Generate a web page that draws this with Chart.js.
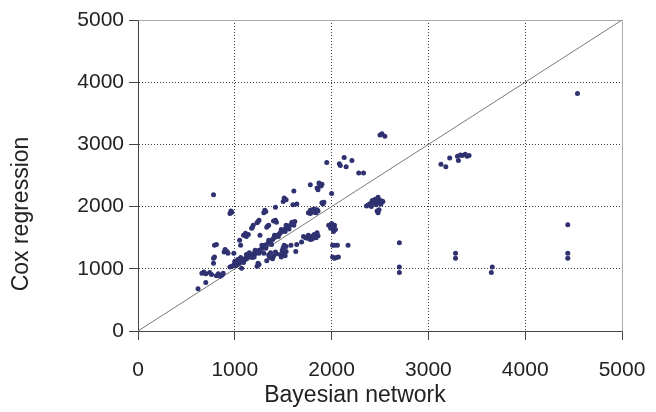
<!DOCTYPE html>
<html><head><meta charset="utf-8">
<script src="https://cdn.jsdelivr.net/npm/chart.js@4"></script>
<style>html,body{margin:0;padding:0;background:#fff}canvas{display:block}</style>
</head><body>
<canvas id="c" width="656" height="412"></canvas>
<script>
// Bayesian network (x) vs Cox regression (y) estimates
const bayesNet = [
 620,700,660,680,700,740,760,810,830,850,870,880,780,780,790,790,810,890,900,920,930,990,
 950,970,990,1000,1010,1020,1030,1040,1050,1060,1080,1100,1110,1120,1140,1160,1170,1180,1200,1210,1220,1240,1250,1260,1280,1300,1310,1330,1350,1370,1390,1400,1420,1440,1460,1480,1500,1520,1540,1560,1580,1600,1620,
 1000,1030,1060,1090,1120,1150,1180,1210,1250,1280,1320,1350,1380,1410,1450,1480,1520,1560,1590,1610,1530,1470,
 1070,1230,1250,1240,1200,
 1060,1090,1110,1120,1140,1050,1180,1190,1260,1230,1250,1240,1330,1350,1340,1400,1420,1430,1174,
 780,950,960,970,1300,1310,1320,1420,1500,1510,1530,1600,1640,1610,
 1780,1850,1870,1890,1860,1900,1880,
 1900,1920,1910,
 1760,1780,1800,1820,1840,1860,1780,1820,1800,1850,
 2000,
 1970,1990,2000,2010,2020,2030,2040,2020,
 1730,1760,1790,1800,1820,1840,1860,1850,1780,1710,1750,
 1690,1640,1580,1510,1500,1530,
 2010,2030,2060,2170,
 2010,2030,2050,2070,
 1630,1480,1500,1520,1530,1490,1470,
 1330,1360,1390,1400,1350,1300,1420,1430,1370,
 1950,2130,2090,2080,2150,2210,2280,2330,2500,2520,2550,
 2360,2380,2400,2410,2420,2430,2440,2450,2460,2470,2480,2490,2500,2510,2520,2530,2470,2480,2490,
 2700,2700,2700,3130,3180,3220,3300,3330,3350,3380,3400,3420,3310,3280,3280,3660,3650,4540,4440,4440,4440
];
const coxReg = [
 680,780,930,950,920,940,910,890,920,880,900,930,1090,1170,1190,1380,1390,1270,1310,1280,1250,1250,
 1030,1040,1060,1080,1050,1090,1100,1080,1110,1130,1140,1150,1170,1160,1190,1200,1220,1210,1250,1240,1270,1280,1300,1290,1330,1350,1380,1390,1420,1440,1470,1490,1510,1540,1560,1590,1610,1640,1660,1690,1710,1740,1760,
 1120,1150,1180,1100,1230,1260,1180,1300,1250,1380,1330,1460,1390,1540,1520,1630,1600,1640,1750,1700,1700,1580,
 1010,1040,1070,1090,1190,
 1380,1540,1570,1520,1550,1460,1660,1700,1540,1740,1780,1760,1670,1700,1690,1770,1780,1750,1650,
 2190,1890,1930,1910,1900,1940,1920,1990,2080,2140,2110,2030,2040,2250,
 2350,2300,2380,2330,2270,2360,2340,
 2060,2070,2040,
 1900,1940,1920,1960,1900,1930,1890,1910,1950,1950,
 2210,
 1700,1650,1730,1680,1660,1700,1630,1600,
 1500,1540,1520,1480,1550,1500,1530,1580,1470,1520,1490,
 1430,1390,1380,1380,1340,1360,
 1380,1380,1380,1380,
 1190,1170,1180,1190,
 1280,1190,1250,1210,1280,1300,1230,
 1130,1180,1160,1200,1220,1250,1270,1240,1260,
 2710,2790,2660,2690,2640,2740,2540,2540,3150,3170,3130,
 2010,2030,2050,2000,2100,2060,2070,2120,2030,2080,2150,2060,2100,2040,2090,2080,1930,1900,1950,
 1420,1030,940,2680,2640,2780,2810,2830,2820,2840,2810,2820,2740,1250,1170,1030,940,3820,1710,1250,1170
];
const diagonalX = [0, 5000];
const diagonalY = [0, 5000];
const axisMin = 0, axisMax = 5000, axisStep = 1000;
const xTitle = 'Bayesian network';
const yTitle = 'Cox regression';

const points = bayesNet.map((x, i) => ({x: x, y: coxReg[i]}));
const diag = diagonalX.map((x, i) => ({x: x, y: diagonalY[i]}));
const FONT = "'Liberation Sans', Arial, Helvetica, sans-serif";
const gridColor = ctx => (ctx.tick && (ctx.tick.value === axisMin || ctx.tick.value === axisMax)) ? 'rgba(0,0,0,0)' : '#3a3a3a';

// light frame on top/right of the plot area, and the axis titles (slightly off-centre as in the reference)
const decorations = {
  id: 'decorations',
  beforeDatasetsDraw(chart) {
    const ctx = chart.ctx, a = chart.chartArea;
    ctx.save();
    ctx.strokeStyle = '#aaa';
    ctx.lineWidth = 1;
    ctx.beginPath();
    ctx.moveTo(Math.round(a.left) + 0.5, Math.round(a.top) + 0.5);
    ctx.lineTo(Math.round(a.right) + 0.5, Math.round(a.top) + 0.5);
    ctx.lineTo(Math.round(a.right) + 0.5, Math.round(a.bottom) + 0.5);
    ctx.stroke();
    ctx.restore();
  },
  afterDraw(chart) {
    const ctx = chart.ctx;
    ctx.save();
    ctx.fillStyle = '#222';
    ctx.font = '23px ' + FONT;
    ctx.textAlign = 'center';
    ctx.textBaseline = 'middle';
    ctx.fillText(xTitle, 355, 396);
    ctx.translate(22, 214);
    ctx.rotate(-Math.PI / 2);
    ctx.fillText(yTitle, 0, 0);
    ctx.restore();
  }
};

new Chart(document.getElementById('c'), {
  type: 'scatter',
  data: {
    datasets: [
      {data: points, backgroundColor: '#2f3170', borderWidth: 0, pointRadius: 2.5, order: 0},
      {type: 'line', data: diag, borderColor: '#7a7a7a', borderWidth: 1, pointRadius: 0, fill: false, order: 1}
    ]
  },
  options: {
    responsive: false,
    animation: false,
    layout: {padding: {left: 0, right: 34, top: 20, bottom: 0}},
    plugins: {legend: {display: false}, tooltip: {enabled: false}},
    scales: {
      x: {
        type: 'linear', position: 'bottom', min: axisMin, max: axisMax,
        ticks: {stepSize: axisStep, color: '#222', font: {family: FONT, size: 21}, padding: 18, maxRotation: 0,
                callback: v => String(v)},
        grid: {color: gridColor, lineWidth: 1, tickColor: '#444', tickLength: 9, tickBorderDash: []},
        border: {color: '#444', width: 1, dash: [1, 2]},
        afterFit: s => { s.height = 81; s.paddingLeft = 0; s.paddingRight = 0; }
      },
      y: {
        type: 'linear', position: 'left', min: axisMin, max: axisMax,
        ticks: {stepSize: axisStep, color: '#222', font: {family: FONT, size: 21}, padding: 5,
                callback: v => String(v)},
        grid: {color: gridColor, lineWidth: 1, tickColor: '#444', tickLength: 9, tickBorderDash: []},
        border: {color: '#444', width: 1, dash: [1, 2]},
        afterFit: s => { s.width = 138; }
      }
    }
  },
  plugins: [decorations]
});
</script>
</body></html>
